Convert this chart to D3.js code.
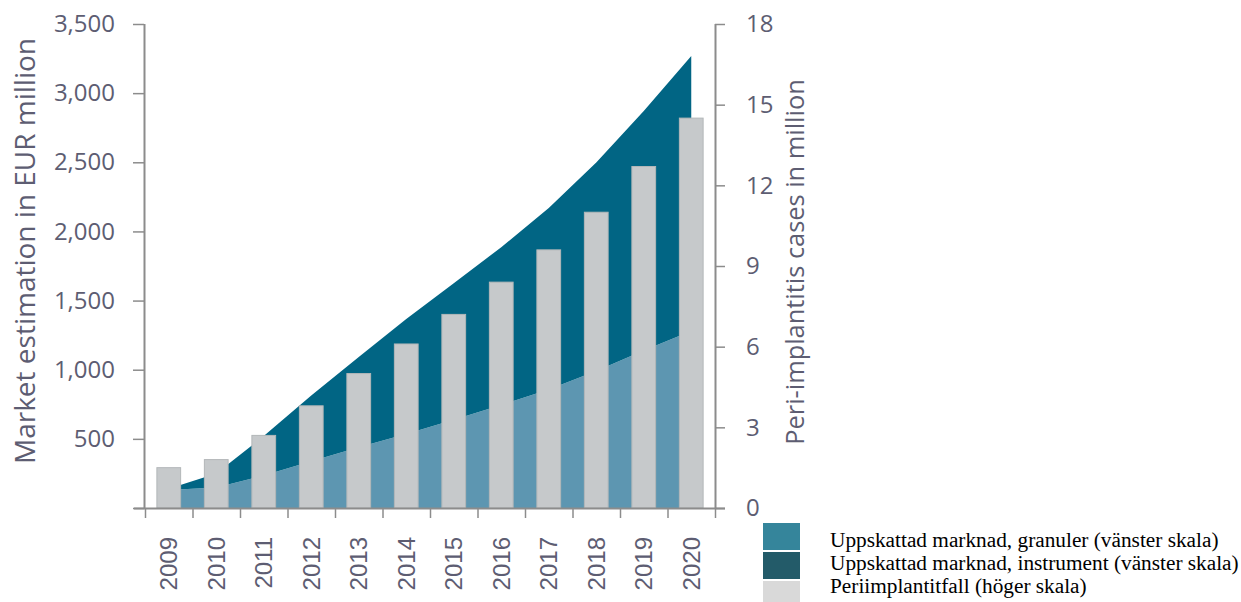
<!DOCTYPE html>
<html><head><meta charset="utf-8">
<script src="https://cdn.jsdelivr.net/npm/d3@7"></script>
<style>
html,body{margin:0;padding:0;background:#fff;}
svg{display:block;}
</style>
</head><body>
<svg id="chart" width="1241" height="602"></svg>
<script>
const years = ['2009','2010','2011','2012','2013','2014','2015','2016','2017','2018','2019','2020'];
const granuler = [130,148,235,338,440,536,639,745,857,990,1139,1280];
const instrument = [10,102,285,475,652,830,986,1141,1312,1508,1731,1988];
const cases = [1.5,1.8,2.7,3.8,5.0,6.1,7.2,8.4,9.6,11.0,12.7,14.5];
const leftTicks = [0,500,1000,1500,2000,2500,3000,3500];
const rightTicks = [0,3,6,9,12,15,18];
const leftTitle = 'Market estimation in EUR million';
const rightTitle = 'Peri-implantitis cases in million';
const legendItems = [
  {label:'Uppskattad marknad, granuler (vänster skala)', color:'#35859b'},
  {label:'Uppskattad marknad, instrument (vänster skala)', color:'#235b69'},
  {label:'Periimplantitfall (höger skala)', color:'#d9d9d9'}
];

const svg = d3.select('#chart');
const X0 = 145, X1 = 715, Y0 = 508, Y1 = 24;
const axisColor = '#8c8c8c';
const textColor = '#5d5d72';
const font = "'Open Sans', sans-serif";

const x = d3.scaleBand().domain(years).range([X0, X1]).paddingInner(0.5).paddingOuter(0.25);
const xc = d => x(d) + x.bandwidth()/2;
const yL = d3.scaleLinear().domain([0,3500]).range([Y0, Y1]);
const yR = d3.scaleLinear().domain([0,18]).range([Y0, Y1]);

const rows = years.map((y,i)=>({year:y, granuler:granuler[i], instrument:instrument[i]}));
const stack = d3.stack().keys(['granuler','instrument'])(rows);
const areaColors = {granuler:'#5d96b1', instrument:'#016584'};
const area = d3.area().x(d=>xc(d.data.year)).y0(d=>yL(d[0])).y1(d=>yL(d[1]));

svg.append('g').selectAll('path').data(stack).join('path')
  .attr('d', area).attr('fill', d=>areaColors[d.key]);

svg.append('g').selectAll('rect').data(years).join('rect')
  .attr('x', d=>x(d)).attr('width', x.bandwidth())
  .attr('y', (d,i)=>yR(cases[i])).attr('height', (d,i)=>Y0 - yR(cases[i]))
  .attr('fill','#c6c9cb').attr('stroke','#b3b7b9').attr('stroke-width',1);

// Left axis
const gL = svg.append('g').attr('transform',`translate(${X0-1},0)`)
  .call(d3.axisLeft(yL).tickValues(leftTicks).tickSize(11).tickPadding(18)
    .tickFormat(d=> d===0 ? '' : d3.format(',')(d)));
// Right axis
const gR = svg.append('g').attr('transform',`translate(${X1},0)`)
  .call(d3.axisRight(yR).tickValues(rightTicks).tickSize(10).tickPadding(21));
// Bottom boundaries
const xb = d3.scaleLinear().domain([0,years.length]).range([X0, X1]);
const gB = svg.append('g').attr('transform',`translate(0,${Y0})`)
  .call(d3.axisBottom(xb).tickValues(d3.range(0,years.length+1)).tickSize(10).tickFormat(''));
gB.select('.domain').attr('d', `M${X0-11},0.5H${X1+10}`);

[gL,gR,gB].forEach(g=>{
  g.select('.domain').attr('stroke',axisColor).attr('stroke-width',2);
  g.selectAll('.tick line').attr('stroke',axisColor).attr('stroke-width',1.5);
  g.selectAll('.tick text').attr('fill',textColor).style('font-family',font).style('font-size','24px');
});
gL.select('.domain').attr('d', `M0.5,${Y1}V${Y0}`);
gR.select('.domain').attr('d', `M0.5,${Y1}V${Y0}`);

// Year labels
svg.append('g').selectAll('text').data(years).join('text')
  .attr('transform', d=>`translate(${xc(d)},537) rotate(-90)`)
  .attr('text-anchor','end').attr('dy','0.36em')
  .attr('fill',textColor).style('font-family',"'Liberation Sans', Arial, sans-serif").style('font-size','24px')
  .text(d=>d);

// Axis titles
svg.append('text').attr('transform',`translate(25,251) rotate(-90)`)
  .attr('text-anchor','middle').attr('dy','0.36em')
  .attr('fill',textColor).style('font-family',font).style('font-size','28px')
  .text(leftTitle);
svg.append('text').attr('transform',`translate(795,262) rotate(-90)`)
  .attr('text-anchor','middle').attr('dy','0.36em')
  .attr('fill',textColor).style('font-family',font).style('font-size','25.4px')
  .text(rightTitle);

// Legend
const lg = svg.append('g');
const swY = [523, 552, 581];
const txY = [540, 563, 586];
legendItems.forEach((it,i)=>{
  lg.append('rect').attr('x',763).attr('y',swY[i]).attr('width',37).attr('height',27).attr('fill',it.color);
  lg.append('text').attr('x',830).attr('y',txY[i]).attr('dy','0.35em')
    .attr('fill','#000').style('font-family',"'Liberation Serif', 'Times New Roman', serif").style('font-size','21.3px')
    .text(it.label);
});
</script>
</body></html>
